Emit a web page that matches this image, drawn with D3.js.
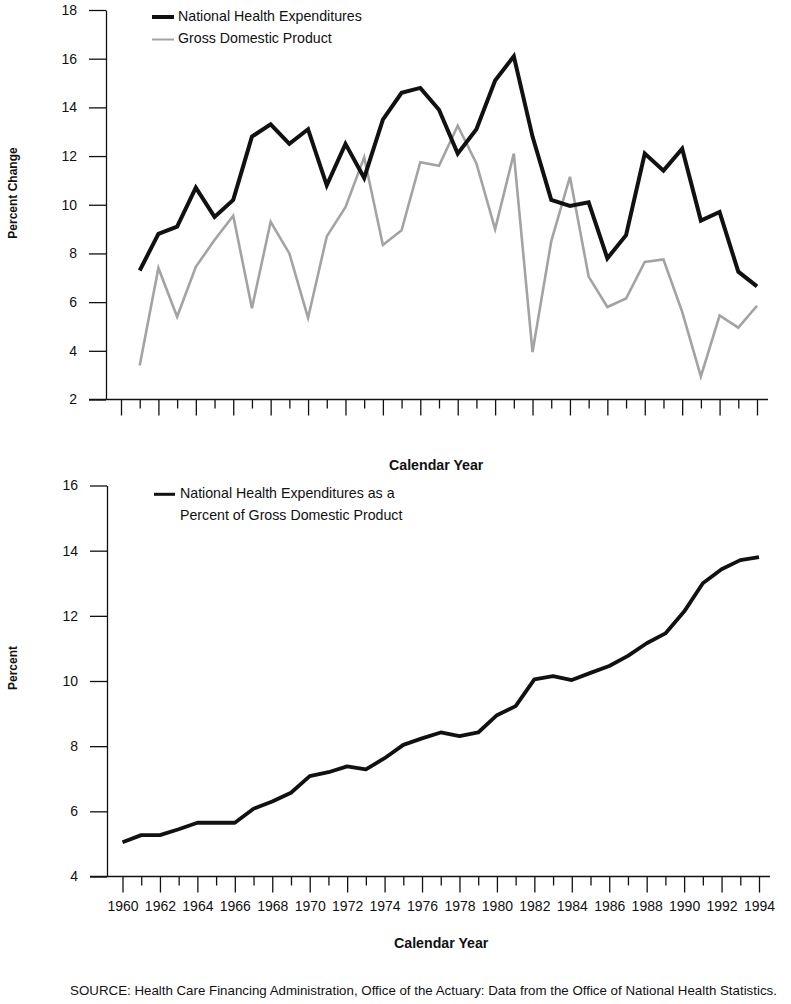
<!DOCTYPE html>
<html>
<head>
<meta charset="utf-8">
<script src="https://cdn.jsdelivr.net/npm/d3@7"></script>
<style>
  html, body { margin: 0; padding: 0; background: #fff; }
  svg { display: block; font-family: "Liberation Sans", Arial, Helvetica, sans-serif; }
</style>
</head>
<body>
<svg id="chart" width="791" height="1004"></svg>
<script>
// ---- Data ----
const years = d3.range(1960, 1995);
const growthYears = d3.range(1961, 1995);
const nheGrowth = [7.3, 8.8, 9.1, 10.7, 9.5, 10.2, 12.8, 13.3, 12.5, 13.1, 10.8, 12.5, 11.1, 13.5,
  14.6, 14.8, 13.9, 12.1, 13.1, 15.1, 16.1, 12.8, 10.2, 9.95, 10.1, 7.8, 8.75, 12.1, 11.4, 12.3,
  9.35, 9.7, 7.25, 6.65];
const gdpGrowth = [3.4, 7.4, 5.4, 7.45, 8.55, 9.55, 5.75, 9.3, 8.0, 5.35, 8.7, 9.9, 11.95, 8.35,
  8.95, 11.75, 11.6, 13.25, 11.7, 9.0, 12.1, 3.95, 8.5, 11.15, 7.05, 5.8, 6.15, 7.65, 7.75, 5.6,
  2.95, 5.45, 4.95, 5.85];
const nheShare = [5.05, 5.27, 5.27, 5.45, 5.65, 5.65, 5.65, 6.08, 6.3, 6.57, 7.08, 7.2, 7.38, 7.29,
  7.63, 8.04, 8.24, 8.42, 8.31, 8.42, 8.95, 9.23, 10.05, 10.15, 10.03, 10.25, 10.46, 10.77, 11.16,
  11.46, 12.13, 13.0, 13.43, 13.71, 13.8];
const topYTicks = [2, 4, 6, 8, 10, 12, 14, 16, 18];
const bottomYTicks = [4, 6, 8, 10, 12, 14, 16];
const topLegend = ["National Health Expenditures", "Gross Domestic Product"];
const bottomLegend = ["National Health Expenditures as a", "Percent of Gross Domestic Product"];
const xTitle = "Calendar Year";
const topYTitle = "Percent Change";
const bottomYTitle = "Percent";
const sourceNote = "SOURCE: Health Care Financing Administration, Office of the Actuary: Data from the Office of National Health Statistics.";

const svg = d3.select("#chart");
const BLACK = "#111";
const GRAY = "#a3a3a3";

function drawPanel(opt) {
  const g = svg.append("g");
  const x = d3.scaleLinear().domain([1960, 1994]).range([opt.x0, opt.x1]);
  const y = d3.scaleLinear().domain(opt.yDomain).range([opt.yBottom, opt.yTop]);

  // y axis
  const ya = g.append("g").attr("transform", `translate(${opt.axisX},0)`)
    .call(d3.axisLeft(y).tickValues(opt.yTicks).tickSize(17).tickSizeOuter(0).tickPadding(12).tickFormat(d3.format("d")));
  ya.select(".domain").attr("stroke", BLACK).attr("stroke-width", 1.3);
  ya.selectAll(".tick line").attr("stroke", BLACK).attr("stroke-width", 1.3);
  ya.selectAll(".tick text").attr("font-size", 14).attr("fill", BLACK)
    .attr("font-family", '"Liberation Sans", Arial, sans-serif');

  // x axis
  const xa = g.append("g").attr("transform", `translate(0,${opt.yBottom})`)
    .call(d3.axisBottom(x).tickValues(years).tickSize(16).tickSizeOuter(0).tickPadding(9)
      .tickFormat(d => opt.xLabels && d % 2 === 0 ? String(d) : ""));
  xa.select(".domain").remove();
  xa.selectAll(".tick line").attr("stroke", BLACK).attr("stroke-width", 1.3)
    .attr("y2", d => d % 2 === 0 ? 16 : 9);
  xa.selectAll(".tick text").attr("font-size", 14).attr("fill", BLACK)
    .attr("font-family", '"Liberation Sans", Arial, sans-serif');
  g.append("line").attr("x1", opt.axisX - 17).attr("x2", x(1994) + 11)
    .attr("y1", opt.yBottom).attr("y2", opt.yBottom).attr("stroke", BLACK).attr("stroke-width", 1.3);

  // x title
  g.append("text").attr("x", opt.xTitleX).attr("y", opt.xTitleY)
    .attr("font-size", 14.2).attr("font-weight", "bold").attr("fill", BLACK)
    .attr("dominant-baseline", "middle").text(xTitle);
  // y title
  g.append("text").attr("transform", `translate(14,${opt.yTitleY}) rotate(-90)`)
    .attr("text-anchor", "middle").attr("dominant-baseline", "middle")
    .attr("font-size", 12).attr("font-weight", "bold").attr("fill", BLACK).text(opt.yTitle);
  return { g, x, y };
}

// ---- Top panel ----
const topP = drawPanel({ x0: 121, x1: 757, yDomain: [2, 18], yBottom: 399.5, yTop: 10, axisX: 106,
  yTicks: topYTicks, xLabels: false, xTitleX: 389, xTitleY: 466.5, yTitleY: 193, yTitle: topYTitle });

const lineTop = d3.line().x((d, i) => topP.x(growthYears[i])).y(d => topP.y(d));
topP.g.append("path").datum(gdpGrowth).attr("d", lineTop).attr("fill", "none")
  .attr("stroke", GRAY).attr("stroke-width", 2.6).attr("stroke-linejoin", "miter");
topP.g.append("path").datum(nheGrowth).attr("d", lineTop).attr("fill", "none")
  .attr("stroke", BLACK).attr("stroke-width", 4).attr("stroke-linejoin", "miter");

// top legend
const legTop = topP.g.append("g");
topLegend.forEach((t, i) => {
  const yy = 17 + i * 22.5;
  legTop.append("line").attr("x1", 152).attr("x2", 174).attr("y1", yy).attr("y2", yy)
    .attr("stroke", i === 0 ? BLACK : GRAY).attr("stroke-width", i === 0 ? 4 : 2);
  legTop.append("text").attr("x", 178).attr("y", yy).attr("dominant-baseline", "middle")
    .attr("font-size", 14.2).attr("fill", BLACK).text(t);
});

// ---- Bottom panel ----
const botP = drawPanel({ x0: 122.5, x1: 759, yDomain: [4, 16], yBottom: 876.5, yTop: 485.5, axisX: 107,
  yTicks: bottomYTicks, xLabels: true, xTitleX: 394, xTitleY: 944, yTitleY: 668, yTitle: bottomYTitle });

const lineBot = d3.line().x((d, i) => botP.x(years[i])).y(d => botP.y(d));
botP.g.append("path").datum(nheShare).attr("d", lineBot).attr("fill", "none")
  .attr("stroke", BLACK).attr("stroke-width", 3.8).attr("stroke-linejoin", "round");

// bottom legend
const legBot = botP.g.append("g");
legBot.append("line").attr("x1", 154).attr("x2", 175).attr("y1", 494.3).attr("y2", 494.3)
  .attr("stroke", BLACK).attr("stroke-width", 3);
bottomLegend.forEach((t, i) => {
  legBot.append("text").attr("x", 180).attr("y", 494.3 + i * 22.4).attr("dominant-baseline", "middle")
    .attr("font-size", 14.2).attr("fill", BLACK).text(t);
});

// source
svg.append("text").attr("x", 423.5).attr("y", 991.7).attr("text-anchor", "middle")
  .attr("dominant-baseline", "middle").attr("font-size", 13.3).attr("fill", BLACK).text(sourceNote);
</script>
</body>
</html>
